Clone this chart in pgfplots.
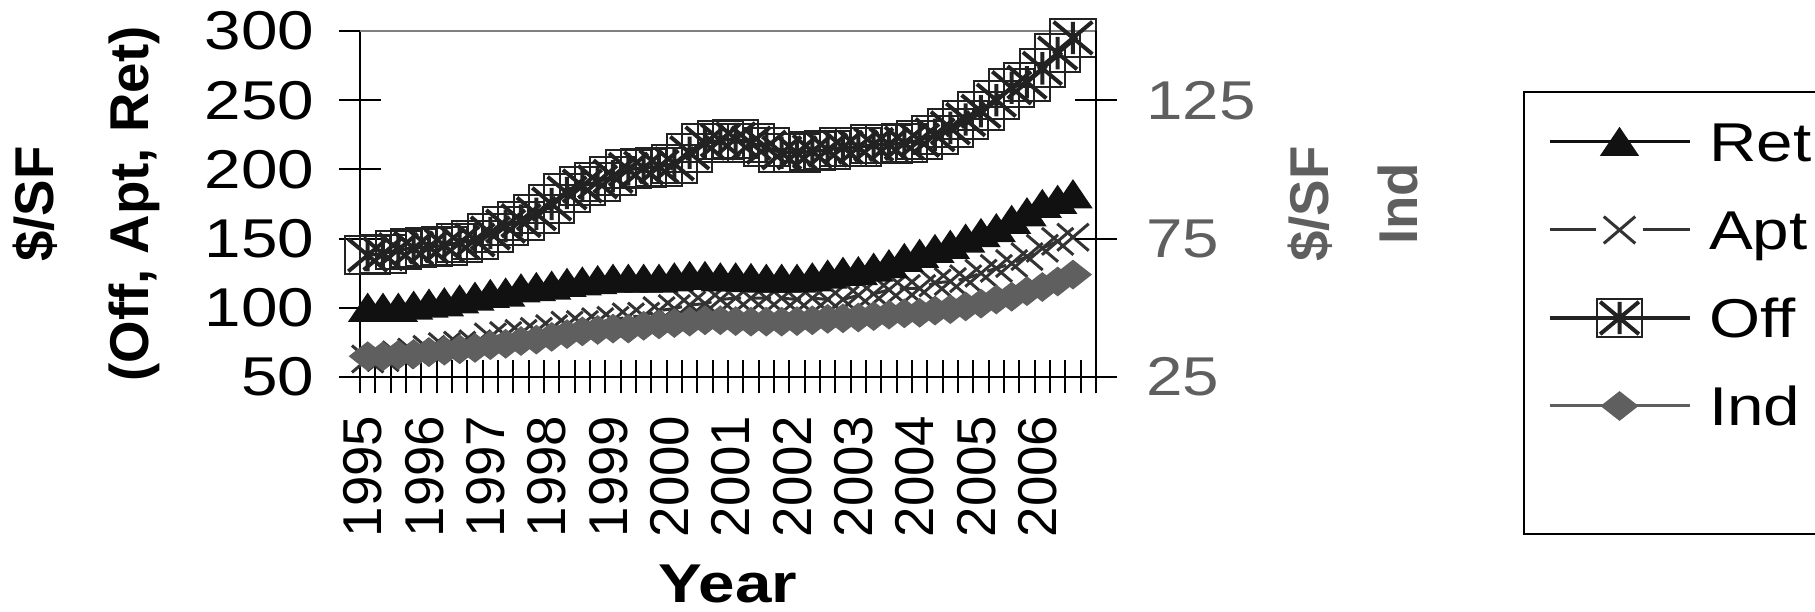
\documentclass[border=0pt]{standalone}
\usepackage{pgfplots}
\pgfplotsset{compat=1.18}
\usepackage{pgfplotstable}
\usepackage{fontspec}
\setmainfont{Liberation Sans}[FakeStretch=1.2]
\newfontfamily\rotfont{Liberation Sans}
\definecolor{retc}{HTML}{111111}
\definecolor{aptc}{HTML}{333333}
\definecolor{offc}{HTML}{222222}
\definecolor{indc}{HTML}{5F5F5F}
\definecolor{axgray}{HTML}{5F5F5F}
\definecolor{topgray}{HTML}{808080}
\newcommand{\fs}{\fontsize{16.4}{19.6}\selectfont}

\pgfdeclareplotmark{boxstar}{%
  \pgfsetlinewidth{0.6pt}%
  \pgfpathrectangle{\pgfpoint{-\pgfplotmarksize}{-\pgfplotmarksize}}{\pgfpoint{2\pgfplotmarksize}{2\pgfplotmarksize}}%
  \pgfusepathqstroke
  \pgfsetlinewidth{1.2pt}%
  \pgfpathmoveto{\pgfpoint{-0.85\pgfplotmarksize}{-0.85\pgfplotmarksize}}%
  \pgfpathlineto{\pgfpoint{0.85\pgfplotmarksize}{0.85\pgfplotmarksize}}%
  \pgfpathmoveto{\pgfpoint{-0.85\pgfplotmarksize}{0.85\pgfplotmarksize}}%
  \pgfpathlineto{\pgfpoint{0.85\pgfplotmarksize}{-0.85\pgfplotmarksize}}%
  \pgfpathmoveto{\pgfpoint{0pt}{-0.85\pgfplotmarksize}}%
  \pgfpathlineto{\pgfpoint{0pt}{0.85\pgfplotmarksize}}%
  \pgfusepathqstroke
}

\pgfplotstableread{
x ret apt off ind
0.5 100 63 138 32.5
1.5 100 64 139 32.5
2.5 100 66 142 33
3.5 101.5 68 143 33.3
4.5 103 70 144 34
5.5 104 72 145 34.5
6.5 106 73 147 35
7.5 108 74 149 35.5
8.5 110 79 154 36.5
9.5 111 80 159 37
10.5 114 81.5 163 38
11.5 115 83 168 38.5
12.5 116 85 175 39.5
13.5 118 87.5 183 40.5
14.5 119 88 188 41.5
15.5 120 90 191 42
16.5 121 91 195 42.5
17.5 121 93.5 200 42.5
18.5 121 94 201 43.5
19.5 121 98 202 44
20.5 122 99.5 204 44.5
21.5 123 102 212 45
22.5 123 103 219 45.5
23.5 122 106 221 45.5
24.5 122 107 222 45.2
25.5 121.5 107 219 45
26.5 121 107 216 45
27.5 121 107 212 45
28.5 121 106 212 45.2
29.5 122 107 213 45.5
30.5 124 106 214 46
31.5 126 106 216 46.2
32.5 126.5 109 216 46.5
33.5 129 110 218 47
34.5 131.5 113 218 47.5
35.5 136 114 219 48
36.5 139 114 221 48.2
37.5 142.5 118 225 49
38.5 145.5 119 230 49.5
39.5 150 121 236 50.5
40.5 154 125 242 51.5
41.5 157.5 128.5 250 53
42.5 163.5 132 259 54
43.5 169 137 263 56
44.5 175 143 273 57.5
45.5 178 148 284 59.5
46.5 182 151 295 62
}\datatable

\begin{document}
\begin{tikzpicture}
% x axis (bottom line, ticks, year labels)
\begin{axis}[
  at={(108pt,-113.1pt)}, anchor=south west, scale only axis,
  width=220.8pt, height=103.8pt,
  xmin=0, xmax=48, ymin=0, ymax=1,
  axis y line=none, axis x line*=bottom,
  x axis line style={line width=0.75pt, -},
  xtick={0,1,...,48}, xticklabels={},
  tick align=center, major tick length=9.9pt,
  xtick style={line width=0.6pt, black},
  extra x ticks={0.2,4.2,8.2,12.2,16.2,20.2,24.2,28.2,32.2,36.2,40.2,44.2},
  extra x tick labels={1995,1996,1997,1998,1999,2000,2001,2002,2003,2004,2005,2006},
  extra x tick style={major tick length=0pt,
    tick label style={yshift=-11.4pt, rotate=90, anchor=east, inner sep=0pt, font=\rotfont\fs}},
  xlabel={Year},
  xlabel style={at={(axis description cs:0.5,-0.653)}, anchor=base, inner sep=0pt, font=\bfseries\fs},
]
\end{axis}

% primary axis
\begin{axis}[
  at={(108pt,-113.1pt)}, anchor=south west, scale only axis,
  width=220.8pt, height=103.8pt,
  xmin=0, xmax=48, ymin=50, ymax=300,
  axis x line=none, axis y line*=left,
  y axis line style={line width=0.75pt, -},
  ytick={50,100,150,200,250,300},
  yticklabels={50,100,150,200,250,300},
  tick align=center, major tick length=12.6pt,
  ytick style={line width=0.6pt, black},
  yticklabel style={font=\fs, inner sep=0pt, anchor=east, xshift=-7.3pt},
  ylabel={\$/SF\\[8.9pt](Off, Apt, Ret)},
  ylabel style={at={(axis description cs:-0.3716,0.5)}, anchor=center, align=center, font=\rotfont\bfseries\fs},
  clip=false,
]
\addplot[aptc, line width=0.9pt, dash pattern=on 6pt off 3pt, mark=x, mark size=5.7pt,
  mark options={solid, xscale=1.17, line width=0.9pt}] table[x=x,y=apt]{\datatable};
\addplot[retc, line width=0.9pt, mark=triangle*, mark size=5pt,
  mark options={xscale=1.17, yshift=-1.25pt, fill=retc}] table[x=x,y=ret]{\datatable};
\addplot[offc, line width=1pt, mark=boxstar, mark size=5.7pt,
  mark options={xscale=1.2}] table[x=x,y=off]{\datatable};
\draw[topgray, line width=0.75pt] (rel axis cs:0,1) -- (rel axis cs:1,1);
\end{axis}

% secondary axis
\begin{axis}[
  at={(108pt,-113.1pt)}, anchor=south west, scale only axis,
  width=220.8pt, height=103.8pt,
  xmin=0, xmax=48, ymin=25, ymax=150,
  axis x line=none, axis y line*=right,
  y axis line style={line width=0.75pt, -},
  ytick={25,75,125}, yticklabels={25,75,125},
  tick align=center, major tick length=12.6pt,
  ytick style={line width=0.6pt, black},
  yticklabel style={font=\fs, color=axgray, inner sep=0pt, anchor=west, xshift=8.6pt},
  ylabel={\$/SF\\[7.1pt]Ind},
  ylabel style={at={(axis description cs:1.349,0.5)}, anchor=center, align=center, font=\rotfont\bfseries\fs, color=axgray},
  clip=false,
  legend style={at={(axis description cs:1.580,0.8266)}, anchor=north west,
    draw=black, line width=0.6pt, fill=white,
    inner xsep=7.2pt, inner ysep=1.8pt, column sep=5.4pt, row sep=0pt,
    nodes={inner sep=0pt, text height=19.07pt, text depth=7.33pt, font=\fs}},
  legend cell align=left,
  legend image code/.code={\draw[mark repeat=2,mark phase=2,#1] plot coordinates {(0pt,0pt) (21pt,0pt) (42pt,0pt)};},
]
\addplot[indc, line width=0.9pt, mark=diamond*, mark size=3.9pt,
  mark options={xscale=1.7, fill=indc}, forget plot] table[x=x,y=ind]{\datatable};
\addlegendimage{retc, line width=0.9pt, mark=triangle*, mark size=5pt, mark options={xscale=1.17, yshift=-1.25pt, fill=retc}}
\addlegendentry{\makebox[70pt][l]{Ret}}
\addlegendimage{aptc, line width=0.9pt, dash pattern=on 14pt off 14pt, mark=x, mark size=5.7pt, mark options={solid, xscale=1.17, line width=0.9pt}}
\addlegendentry{\makebox[70pt][l]{Apt}}
\addlegendimage{offc, line width=1pt, mark=boxstar, mark size=5.7pt, mark options={xscale=1.2}}
\addlegendentry{\makebox[70pt][l]{Off}}
\addlegendimage{indc, line width=0.9pt, mark=diamond*, mark size=3.9pt, mark options={xscale=1.7, fill=indc}}
\addlegendentry{\makebox[70pt][l]{Ind}}
\addlegendimage{empty legend}
\addlegendentry[text height=16.2pt]{}
\end{axis}
\pgfresetboundingbox
\path (0pt,0pt) rectangle (544.5pt,-183.6pt);
\end{tikzpicture}
\end{document}
